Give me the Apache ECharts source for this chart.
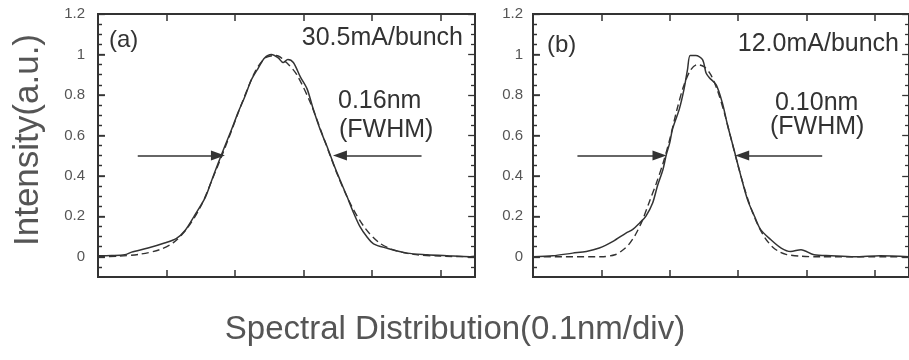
<!DOCTYPE html>
<html><head><meta charset="utf-8">
<script src="https://cdn.jsdelivr.net/npm/echarts@6/dist/echarts.min.js"></script>
<style>html,body{margin:0;padding:0;background:#fff}#c{width:909px;height:360px}</style>
</head><body><div id="c"></div>
<script>
// ---- data (x in 0.1 nm divisions, y in normalized intensity) ----
const aSolidX = [0, 0.2, 0.39, 0.49, 0.73, 0.97, 1.14, 1.27, 1.41, 1.56, 1.65, 1.75, 1.85, 1.95, 2.04, 2.14, 2.24, 2.34, 2.43, 2.53, 2.63, 2.70, 2.77, 2.85, 2.95, 3.05, 3.14, 3.24, 3.34, 3.435, 3.53, 3.63, 3.73, 3.82, 3.92, 4.02, 4.21, 4.51, 4.80, 5.09, 5.43, 5.5];
const aSolidY = [0.005, 0.006, 0.01, 0.023, 0.043, 0.068, 0.09, 0.13, 0.205, 0.29, 0.37, 0.46, 0.546, 0.63, 0.71, 0.79, 0.876, 0.934, 0.983, 1.0, 0.983, 0.96, 0.975, 0.96, 0.89, 0.83, 0.73, 0.63, 0.546, 0.46, 0.38, 0.30, 0.216, 0.15, 0.10, 0.064, 0.043, 0.018, 0.01, 0.005, 0.0, 0.002];
const aFitX = [0, 0.3, 0.6, 0.9, 1.1, 1.3, 1.5, 1.7, 1.9, 2.1, 2.3, 2.45, 2.6, 2.75, 2.9, 3.1, 3.3, 3.5, 3.7, 3.9, 4.1, 4.3, 4.6, 5.0, 5.5];
const aFitY = [0.0, 0.003, 0.012, 0.035, 0.07, 0.14, 0.25, 0.41, 0.58, 0.76, 0.92, 0.985, 0.995, 0.96, 0.9, 0.76, 0.58, 0.40, 0.25, 0.14, 0.07, 0.035, 0.012, 0.003, 0.0];

const bSolidX = [0, 0.29, 0.58, 0.78, 0.97, 1.17, 1.36, 1.46, 1.56, 1.65, 1.75, 1.82, 1.90, 1.95, 2.0, 2.04, 2.14, 2.21, 2.26, 2.30, 2.38, 2.48, 2.53, 2.58, 2.68, 2.77, 2.85, 2.94, 3.04, 3.14, 3.24, 3.33, 3.48, 3.63, 3.77, 3.92, 4.11, 4.36, 4.70, 5.08, 5.5];
const bSolidY = [0.0, 0.005, 0.018, 0.026, 0.043, 0.076, 0.117, 0.135, 0.167, 0.2, 0.266, 0.35, 0.43, 0.505, 0.563, 0.63, 0.73, 0.83, 0.925, 0.995, 0.995, 0.975, 0.91, 0.885, 0.85, 0.76, 0.645, 0.53, 0.40, 0.28, 0.2, 0.134, 0.084, 0.043, 0.026, 0.035, 0.01, 0.005, 0.0, 0.005, 0.0];
const bFitX = [0, 1.0, 1.2, 1.3, 1.4, 1.5, 1.6, 1.7, 1.8, 1.9, 2.0, 2.1, 2.2, 2.3, 2.4, 2.5, 2.6, 2.7, 2.8, 2.9, 3.0, 3.1, 3.2, 3.3, 3.4, 3.5, 3.6, 3.7, 3.9, 4.2, 5.5];
const bFitY = [0, 0.0, 0.01, 0.03, 0.06, 0.11, 0.18, 0.27, 0.36, 0.46, 0.58, 0.72, 0.84, 0.92, 0.95, 0.94, 0.9, 0.82, 0.71, 0.58, 0.45, 0.33, 0.23, 0.15, 0.09, 0.05, 0.025, 0.012, 0.003, 0, 0];

const yMin = -0.1, yMax = 1.2, yStep = 0.2;
const yMajorTicks = [0, 0.2, 0.4, 0.6, 0.8, 1, 1.2];
const yMinorTicks = [-0.05, 0.05, 0.1, 0.15, 0.25, 0.3, 0.35, 0.45, 0.5, 0.55, 0.65, 0.7, 0.75, 0.85, 0.9, 0.95, 1.05, 1.1, 1.15];
const arrowLevel = 0.5;
const aArrows = [[0.58, 1.75], [4.72, 3.53]];
const bArrows = [[0.65, 1.85], [4.23, 3.06]];
const panelLabels = ['(a)', '(b)'];
const currentLabels = ['30.5mA/bunch', '12.0mA/bunch'];
const widthLabels = ['0.16nm', '0.10nm'];
const fwhmLabel = '(FWHM)';
const yTitle = 'Intensity(a.u.)';
const xTitle = 'Spectral Distribution(0.1nm/div)';

// ---- chart ----
const FONT = '"Liberation Sans", Arial, Helvetica, sans-serif';
const INK = '#333';
const X_MIN = 0, X_MAX = 5.5;
const MAJOR_LEN = 0.1, MINOR_LEN = 0.058;   // tick lengths in x-axis units (~7px / ~4px)
const pair = (xs, ys) => xs.map((x, i) => [x, ys[i]]);
const yLabelFmt = v => (v < -1e-9 ? '' : String(+v.toFixed(1)));

const rects = [
  {left: 98, top: 14, width: 377, height: 263},
  {left: 533, top: 14, width: 376, height: 263}
];
const grids = rects.map(r => Object.assign({}, r, {show: true, borderColor: INK, borderWidth: 2}));

const xAxes = [];
[0, 1].forEach(g => {
  ['bottom', 'top'].forEach(pos => xAxes.push({
    gridIndex: g, type: 'value', min: X_MIN, max: X_MAX, interval: 1, position: pos,
    axisLine: {show: true, onZero: false, lineStyle: {color: INK, width: 2}},
    splitLine: {show: false}, axisLabel: {show: false},
    axisTick: {show: true, inside: true, length: 7, lineStyle: {color: INK, width: 1.5}}
  }));
});

const yAxes = [0, 1].map(g => ({
  gridIndex: g, type: 'value', min: yMin, max: yMax, position: 'left',
  minInterval: yStep, maxInterval: yStep, splitNumber: 7,
  axisLine: {show: true, onZero: false, lineStyle: {color: INK, width: 2}},
  splitLine: {show: false},
  axisLabel: {show: true, formatter: yLabelFmt, margin: g === 0 ? 13 : 10, color: '#555', fontSize: 15},
  axisTick: {show: true, inside: true, length: 7, lineStyle: {color: INK, width: 1.5}},
  minorTick: {show: true, splitNumber: 4, length: 4, lineStyle: {color: INK, width: 1.2}}
}));

function arrowLines(arr) {
  return arr.map(a => [{coord: [a[0], arrowLevel]}, {coord: [a[1], arrowLevel]}]);
}
function tickLines(vals, x0, x1) {
  return vals.map(v => [{coord: [x0, v]}, {coord: [x1, v]}]);
}
const frameTicks = [].concat(
  tickLines(yMajorTicks, X_MIN, X_MIN + MAJOR_LEN),
  tickLines(yMinorTicks, X_MIN, X_MIN + MINOR_LEN),
  tickLines(yMajorTicks, X_MAX, X_MAX - MAJOR_LEN),
  tickLines(yMinorTicks, X_MAX, X_MAX - MINOR_LEN)
);

const series = [];
[[aSolidX, aSolidY, aFitX, aFitY, aArrows], [bSolidX, bSolidY, bFitX, bFitY, bArrows]].forEach((p, g) => {
  series.push({
    type: 'line', xAxisIndex: g * 2, yAxisIndex: g, data: pair(p[0], p[1]),
    showSymbol: false, symbol: 'none', smooth: 0.3,
    lineStyle: {color: INK, width: 1.5},
    markLine: {
      silent: true, animation: false, symbol: ['none', 'triangle'], symbolSize: [10, 14],
      label: {show: false}, lineStyle: {color: INK, width: 1.5, type: 'solid'},
      emphasis: {disabled: true},
      data: arrowLines(p[4])
    }
  });
  series.push({
    type: 'line', xAxisIndex: g * 2, yAxisIndex: g, data: pair(p[2], p[3]),
    showSymbol: false, symbol: 'none', smooth: 0.3,
    lineStyle: {color: INK, width: 1.4, type: [7, 4]},
    markLine: {
      silent: true, animation: false, symbol: ['none', 'none'],
      label: {show: false}, lineStyle: {color: INK, width: 1.3, type: 'solid'},
      emphasis: {disabled: true},
      data: frameTicks
    }
  });
});

const txt = (text, x, y, size, align, color) => ({
  type: 'text', x: x, y: y,
  style: {text: text, font: size + 'px ' + FONT, fill: color || INK, align: align || 'left', verticalAlign: 'middle'}
});

const graphic = [
  txt(panelLabels[0], 109, 40, 24),
  txt(currentLabels[0], 463, 38, 25, 'right'),
  txt(widthLabels[0], 338, 101, 25),
  txt(fwhmLabel, 339, 130, 25),
  txt(panelLabels[1], 547, 45, 24),
  txt(currentLabels[1], 899, 44, 25, 'right'),
  txt(widthLabels[1], 775, 103, 25),
  txt(fwhmLabel, 770, 127, 25),
  {type: 'text', x: 28, y: 140, rotation: Math.PI / 2,
   style: {text: yTitle, font: '35px ' + FONT, fill: '#555', align: 'center', verticalAlign: 'middle'}},
  txt(xTitle, 455, 330, 33, 'center', '#555')
];

const chart = echarts.init(document.getElementById('c'), null, {renderer: 'canvas'});
chart.setOption({
  animation: false,
  backgroundColor: '#fff',
  grid: grids, xAxis: xAxes, yAxis: yAxes, series: series, graphic: graphic
});
</script></body></html>
